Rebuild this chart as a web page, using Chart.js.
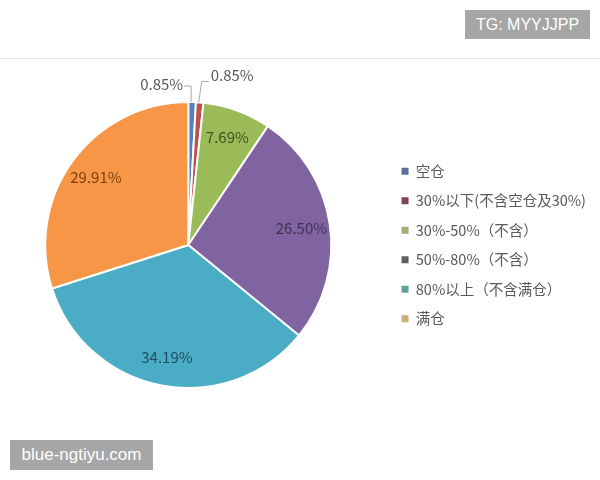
<!DOCTYPE html>
<html>
<head>
<meta charset="utf-8">
<script src="https://cdn.jsdelivr.net/npm/chart.js@4.4.1/dist/chart.umd.min.js"></script>
<style>
  html, body { margin: 0; padding: 0; background: #fff; }
  body { width: 600px; height: 480px; position: relative; overflow: hidden; }
  #wrap { position: absolute; left: -20px; top: 60px; width: 640px; height: 370px; }
  .rule { position: absolute; left: 0; top: 58px; width: 600px; height: 1px; background: #e6e6e6; }
  .tag { position: absolute; background: #a6a6a6; color: #fff; font-family: 'Liberation Sans', Arial, sans-serif; }
  #tg { left: 465px; top: 10px; width: 125px; height: 29px; line-height: 29px; font-size: 16px; text-align: center; }
  #site { left: 10px; top: 440px; width: 143px; height: 30px; line-height: 30px; font-size: 17px; text-align: center; }
</style>
</head>
<body>
<div class="rule"></div>
<div id="tg" class="tag">TG: MYYJJPP</div>
<div id="wrap"><canvas id="pieChart"></canvas></div>
<div id="site" class="tag">blue-ngtiyu.com</div>
<script>
// categories and shares (%)
const categories = ['空仓', '30%以下(不含空仓及30%)', '30%-50%（不含）', '50%-80%（不含）', '80%以上（不含满仓）', '满仓'];
const shares = [0.85, 0.85, 7.69, 26.50, 34.19, 29.91];
const sliceColors = ['#4F81BD', '#C0504D', '#9BBB59', '#8064A2', '#4BACC6', '#F79646'];
const legendColors = ['#5b6f9b', '#7d4753', '#a3ab74', '#5e5e5e', '#5fa39d', '#c9af7b'];
const labelColors = ['#595959', '#595959', '#3f5220', '#3f3152', '#1f4e62', '#7d3f0c'];

const FONT = "'Noto Sans CJK SC', 'Noto Sans', sans-serif";

// percent labels: inside for big slices, leader lines for the tiny ones
const sliceLabels = {
    id: 'sliceLabels',
    afterDatasetsDraw(chart) {
        const ctx = chart.ctx;
        const arcs = chart.getDatasetMeta(0).data;
        ctx.save();
        ctx.font = '15px ' + FONT;
        ctx.textBaseline = 'middle';
        let smallCount = 0;
        arcs.forEach((arc, i) => {
            const p = arc.getProps(['x', 'y', 'startAngle', 'endAngle', 'outerRadius'], true);
            const mid = (p.startAngle + p.endAngle) / 2;
            const text = shares[i].toFixed(2) + '%';
            ctx.fillStyle = labelColors[i];
            if (shares[i] >= 2) {
                const r = p.outerRadius * 0.8;
                ctx.textAlign = 'center';
                ctx.fillText(text, p.x + Math.cos(mid) * r, p.y + Math.sin(mid) * r);
                return;
            }
            const ax = p.x + Math.cos(mid) * p.outerRadius;
            const ay = p.y + Math.sin(mid) * p.outerRadius;
            ctx.strokeStyle = '#a6a6a6';
            ctx.lineWidth = 1;
            ctx.beginPath();
            if (smallCount === 0) {
                ctx.moveTo(ax - 1, ay);
                ctx.lineTo(ax - 1, ay - 16);
                ctx.lineTo(ax - 8, ay - 16);
                ctx.stroke();
                ctx.textAlign = 'right';
                ctx.fillText(text, ax - 9, ay - 18);
            } else {
                ctx.moveTo(ax - 1, ay);
                ctx.lineTo(ax + 2, ay - 21);
                ctx.lineTo(ax + 9, ay - 21);
                ctx.stroke();
                ctx.textAlign = 'left';
                ctx.fillText(text, ax + 11, ay - 27);
            }
            smallCount++;
        });
        ctx.restore();
    }
};

new Chart(document.getElementById('pieChart'), {
    type: 'pie',
    data: {
        labels: categories,
        datasets: [{
            data: shares,
            backgroundColor: sliceColors,
            borderColor: '#ffffff',
            borderWidth: 2,
            hoverBorderWidth: 2,
            hoverOffset: 0
        }]
    },
    options: {
        responsive: true,
        maintainAspectRatio: false,
        animation: false,
        layout: { padding: { left: 10, right: 24, top: 41, bottom: 41 } },
        plugins: {
            tooltip: { enabled: false },
            legend: {
                position: 'right',
                labels: {
                    boxWidth: 7,
                    boxHeight: 7,
                    padding: 15,
                    color: '#595959',
                    font: { size: 14.5, family: FONT },
                    generateLabels: chart => categories.map((c, i) => ({
                        text: c,
                        fillStyle: legendColors[i],
                        strokeStyle: legendColors[i],
                        lineWidth: 0,
                        fontColor: '#595959',
                        hidden: false,
                        index: i
                    }))
                }
            }
        }
    },
    plugins: [sliceLabels]
});
</script>
</body>
</html>
